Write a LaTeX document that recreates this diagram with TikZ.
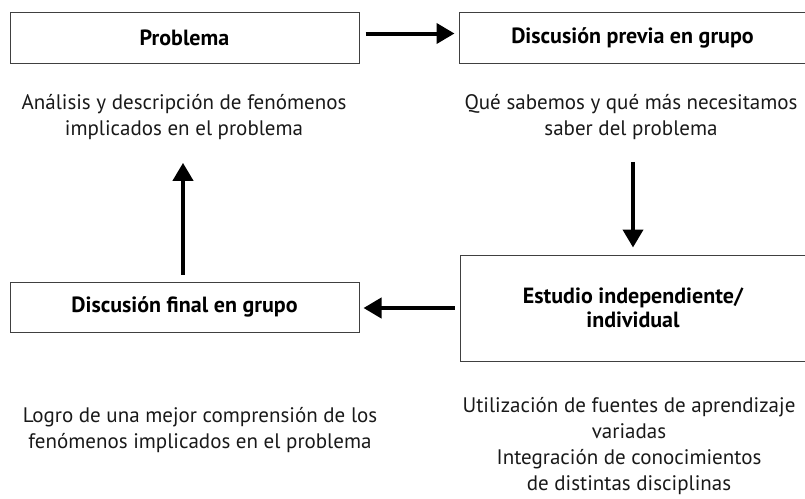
\documentclass[tikz,border=0pt]{standalone}
\usepackage{fontspec}
\setmainfont{PT Sans}
\usetikzlibrary
  {
    arrows.meta,              % triangle arrow heads
    positioning,              % place nodes relative to other nodes
  }

\begin{document}
\begin{tikzpicture}[x=1pt, y=-1pt,
    caja/.style={draw=black!75, line width=1pt, inner sep=0pt,
      font=\bfseries\fontsize{22}{24}\selectfont, align=center},
    nota/.style={align=center, inner sep=0pt, text=black!90,
      font=\fontsize{21}{26}\selectfont},
    flecha/.style={line width=4pt, -{Triangle[length=18pt, width=20pt]}},
  ]
  \clip (0,0) rectangle (805,498); % page size

  % boxes
  \node [caja, minimum width=349pt, minimum height=51pt] (problema) at (184.5,37.5) {Problema};
  \node [caja, minimum width=347pt, minimum height=51pt] (previa) at (632.5,37.5) {Discusión previa en grupo};
  \node [caja, minimum width=346pt, minimum height=106pt] (estudio) at (633,308) {Estudio independiente/\\individual};
  \node [caja, minimum width=349pt, minimum height=50pt] (final) at (184.5,307) {Discusión final en grupo};

  % texts below the boxes
  \node [nota] (analisis) at (184,117) {Análisis y descripción de fenómenos\\implicados en el problema};
  \node [nota] (sabemos) at (631,117) {Qué sabemos y qué más necesitamos\\saber del problema};
  \node [nota] (logro) at (200,430) {Logro de una mejor comprensión de los\\fenómenos implicados en el problema};
  \node [nota] (fuentes) at (629,446) {Utilización de fuentes de aprendizaje\\variadas\\Integración de conocimientos\\de distintas disciplinas};

  % arrows
  \draw [flecha, shorten <=6pt, shorten >=4pt] ([yshift=4pt]problema.east) -- ([yshift=4pt]previa.west);
  \draw [flecha, shorten <=22pt, shorten >=7pt] (sabemos.south -| estudio.north) -- (estudio.north);
  \draw [flecha, shorten <=5pt, shorten >=4pt] (estudio.west) -- (estudio.west -| final.east);
  \draw [flecha, shorten <=7pt, shorten >=23pt] ([xshift=-1.5pt]final.north) -- ([xshift=-1.5pt]final.north |- analisis.south);
\end{tikzpicture}
\end{document}
